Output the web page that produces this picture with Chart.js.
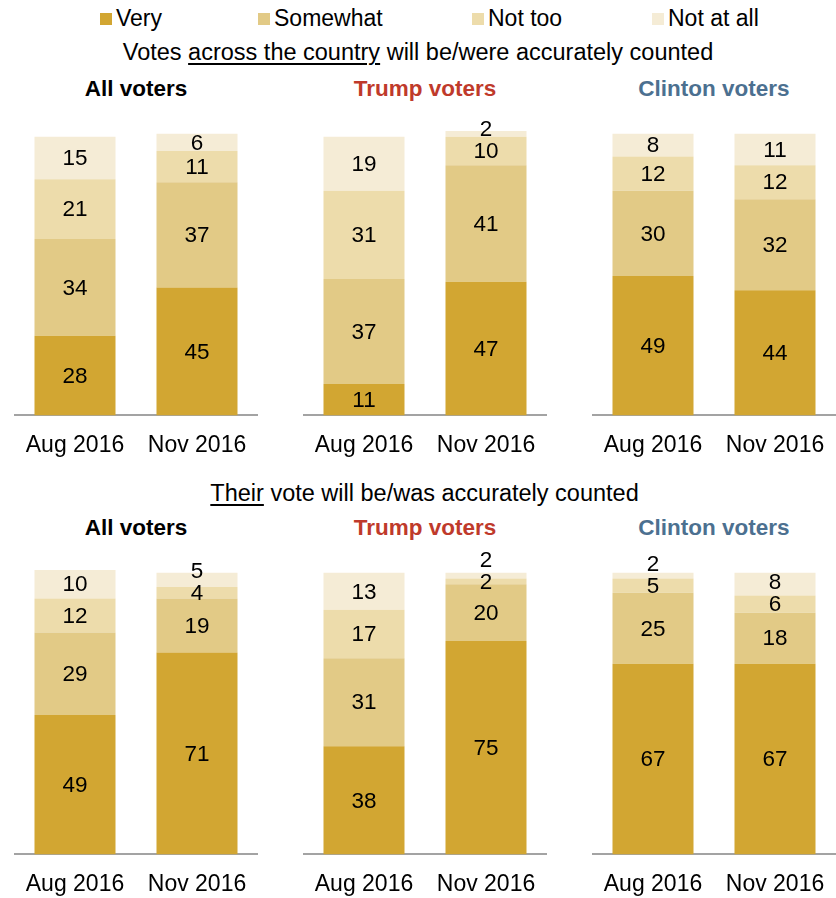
<!DOCTYPE html>
<html>
<head>
<meta charset="utf-8">
<script src="https://cdn.jsdelivr.net/npm/chart.js@4.4.1/dist/chart.umd.min.js"></script>
<style>
  body { margin: 0; width: 836px; height: 898px; overflow: hidden; background: #fff; position: relative;
         font-family: "Liberation Sans Narrow", "Liberation Sans", Arial, sans-serif; color: #000; }
  .abs { position: absolute; white-space: nowrap; }
  .legend { top: 6px; font-size: 23px; line-height: 24px; }
  .sw { display: inline-block; width: 12px; height: 12px; margin-right: 4px; vertical-align: 1px; }
  .sub { left: 0; width: 836px; text-align: center; font-size: 23.5px; line-height: 26px; }
  .sub u { text-decoration-thickness: 2px; text-underline-offset: 3px; }
  .ttl { width: 244px; text-align: center; font-weight: bold; font-size: 22.5px; line-height: 26px; }
  canvas { position: absolute; }
</style>
</head>
<body>

<script>
// categories / series
const periods = ['Aug 2016', 'Nov 2016'];
const answers = ['Very', 'Somewhat', 'Not too', 'Not at all'];
const answerColors = ['#d2a632', '#e2ca86', '#eddcab', '#f5ecd6'];
const groups = ['All voters', 'Trump voters', 'Clinton voters'];
const groupColors = ['#000000', '#bf3a2b', '#4c7090'];

// values per bar: [Very, Somewhat, Not too, Not at all]
// Votes across the country will be/were accurately counted
const countryAll     = [[28, 34, 21, 15], [45, 37, 11, 6]];
const countryTrump   = [[11, 37, 31, 19], [47, 41, 10, 2]];
const countryClinton = [[49, 30, 12, 8],  [44, 32, 12, 11]];
// Their vote will be/was accurately counted
const ownAll     = [[49, 29, 12, 10], [71, 19, 4, 5]];
const ownTrump   = [[38, 31, 17, 13], [75, 20, 2, 2]];
const ownClinton = [[67, 25, 5, 2],   [67, 18, 6, 8]];

const yTicks = [0, 100];
</script>

<div class="abs legend" style="left:100px"><span class="sw" style="background:#d2a632"></span>Very</div>
<div class="abs legend" style="left:258px"><span class="sw" style="background:#e2ca86"></span>Somewhat</div>
<div class="abs legend" style="left:472px"><span class="sw" style="background:#eddcab"></span>Not too</div>
<div class="abs legend" style="left:652px"><span class="sw" style="background:#f5ecd6"></span>Not at all</div>

<div class="abs sub" style="top:39px">Votes <u>across the country</u> will be/were accurately counted</div>
<div class="abs sub" style="top:480px">&nbsp;&nbsp;<u>Their</u> vote will be/was accurately counted</div>

<script>
// value labels inside segments, nudged up when slices are too thin
const segLabels = {
  id: 'segLabels',
  afterDatasetsDraw(chart) {
    const ctx = chart.ctx;
    ctx.save();
    ctx.font = '22.5px "Liberation Sans", Arial, sans-serif';
    ctx.fillStyle = '#000';
    ctx.textAlign = 'center';
    ctx.textBaseline = 'middle';
    periods.forEach((p, i) => {
      let prev = Infinity;
      chart.data.datasets.forEach((ds, d) => {
        const el = chart.getDatasetMeta(d).data[i];
        if (!el) return;
        let y = Math.min((el.y + el.base) / 2, prev - 22);
        ctx.fillText(String(ds.data[i]), el.x, y + 1);
        prev = y;
      });
    });
    ctx.restore();
  }
};

const panels = [
  { data: countryAll, g: 0, top: 105 },
  { data: countryTrump, g: 1, top: 105 },
  { data: countryClinton, g: 2, top: 105 },
  { data: ownAll, g: 0, top: 544 },
  { data: ownTrump, g: 1, top: 544 },
  { data: ownClinton, g: 2, top: 544 }
];

panels.forEach((p, n) => {
  const left = 14 + 289 * p.g;

  const t = document.createElement('div');
  t.className = 'abs ttl';
  t.style.left = left + 'px';
  t.style.top = (p.top - 29) + 'px';
  t.style.color = groupColors[p.g];
  t.textContent = groups[p.g];
  document.body.appendChild(t);

  const cv = document.createElement('canvas');
  cv.width = 244; cv.height = 370;
  cv.style.left = left + 'px';
  cv.style.top = p.top + 'px';
  document.body.appendChild(cv);

  new Chart(cv, {
    type: 'bar',
    data: {
      labels: periods,
      datasets: answers.map((a, k) => ({
        label: a,
        data: p.data.map(bar => bar[k]),
        backgroundColor: answerColors[k],
        borderWidth: 0,
        categoryPercentage: 1,
        barPercentage: 0.664
      }))
    },
    options: {
      responsive: false,
      animation: false,
      layout: { padding: { top: 26, left: 0, right: 0, bottom: 0 } },
      plugins: { legend: { display: false }, tooltip: { enabled: false } },
      scales: {
        x: {
          stacked: true,
          grid: { display: false, drawTicks: false },
          border: { display: true, color: '#a3a3a3', width: 2 },
          ticks: { color: '#000', padding: 16, font: { family: '"Liberation Sans", Arial, sans-serif', size: 23 } },
          // keep the axis full width, labels fit anyway
          afterFit: s => { s.paddingLeft = 0; s.paddingRight = 0; }
        },
        y: {
          stacked: true, display: false,
          min: yTicks[0], max: yTicks[1]
        }
      }
    },
    plugins: [segLabels]
  });
});
</script>
</body>
</html>
